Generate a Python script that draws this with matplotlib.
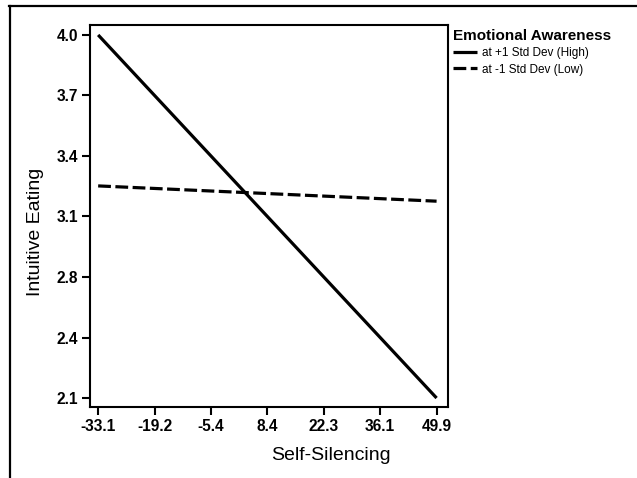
import numpy as np
import matplotlib
matplotlib.use("Agg")
import matplotlib.pyplot as plt
from matplotlib.lines import Line2D

# data
self_silencing = [-33.1, 49.9]
high_ea = [4.0, 2.1]      # at +1 Std Dev (High)
low_ea = [3.21, 3.13]     # at -1 Std Dev (Low)

x_tick_labels = ["-33.1", "-19.2", "-5.4", "8.4", "22.3", "36.1", "49.9"]
y_tick_labels = ["2.1", "2.4", "2.8", "3.1", "3.4", "3.7", "4.0"]
series_names = ["at +1 Std Dev (High)", "at -1 Std Dev (Low)"]

plt.rcParams["font.family"] = ["Liberation Sans", "DejaVu Sans"]

fig = plt.figure(figsize=(6.37, 4.78), dpi=100)
ax = fig.add_axes([90/637, 1-407/478, (448-90)/637, (407-25)/478])

ax.plot(self_silencing, high_ea, color="black", lw=2.3, label=series_names[0],
        solid_capstyle="butt")
ax.plot(self_silencing, low_ea, color="black", lw=2.3, label=series_names[1],
        dashes=(4, 1.4), dash_capstyle="butt")

xt = np.linspace(self_silencing[0], self_silencing[1], len(x_tick_labels))
yt = np.linspace(min(high_ea), max(high_ea), len(y_tick_labels))
ax.set_xticks(xt)
ax.set_xticklabels(x_tick_labels)
ax.set_yticks(yt)
ax.set_yticklabels(y_tick_labels)
ax.set_xlim(-35.1, 52.7)
ax.set_ylim(2.053, 4.052)

for s in ax.spines.values():
    s.set_linewidth(1.5)
ax.tick_params(direction="out", length=5.5, width=1.5, pad=3)
for lab in ax.get_xticklabels() + ax.get_yticklabels():
    lab.set_fontweight("bold")
    lab.set_fontsize(11.2)

fig.text(331/637, 1-455/478, "Self-Silencing", fontsize=14, ha="center", va="center")
fig.text(35/637, 1-232/478, "Intuitive Eating", fontsize=14, ha="center", va="center",
         rotation=90)

leg = ax.legend(loc="upper left", bbox_to_anchor=(1 - 3/358, 1 + 4/382), frameon=False,
                title="Emotional Awareness", fontsize=8.5, handlelength=2.0,
                handletextpad=0.4, labelspacing=0.35, borderaxespad=0.3,
                alignment="left")
leg.get_title().set_fontweight("bold")
leg.get_title().set_fontsize(11)

# outer frame lines (left and top)
fig.add_artist(Line2D([10/637, 10/637], [0, 1-6/478], color="black", lw=1.6,
                      transform=fig.transFigure))
fig.add_artist(Line2D([9/637, 1], [1-6/478, 1-6/478], color="black", lw=1.6,
                      transform=fig.transFigure))

fig.savefig("out.png", dpi=100)
